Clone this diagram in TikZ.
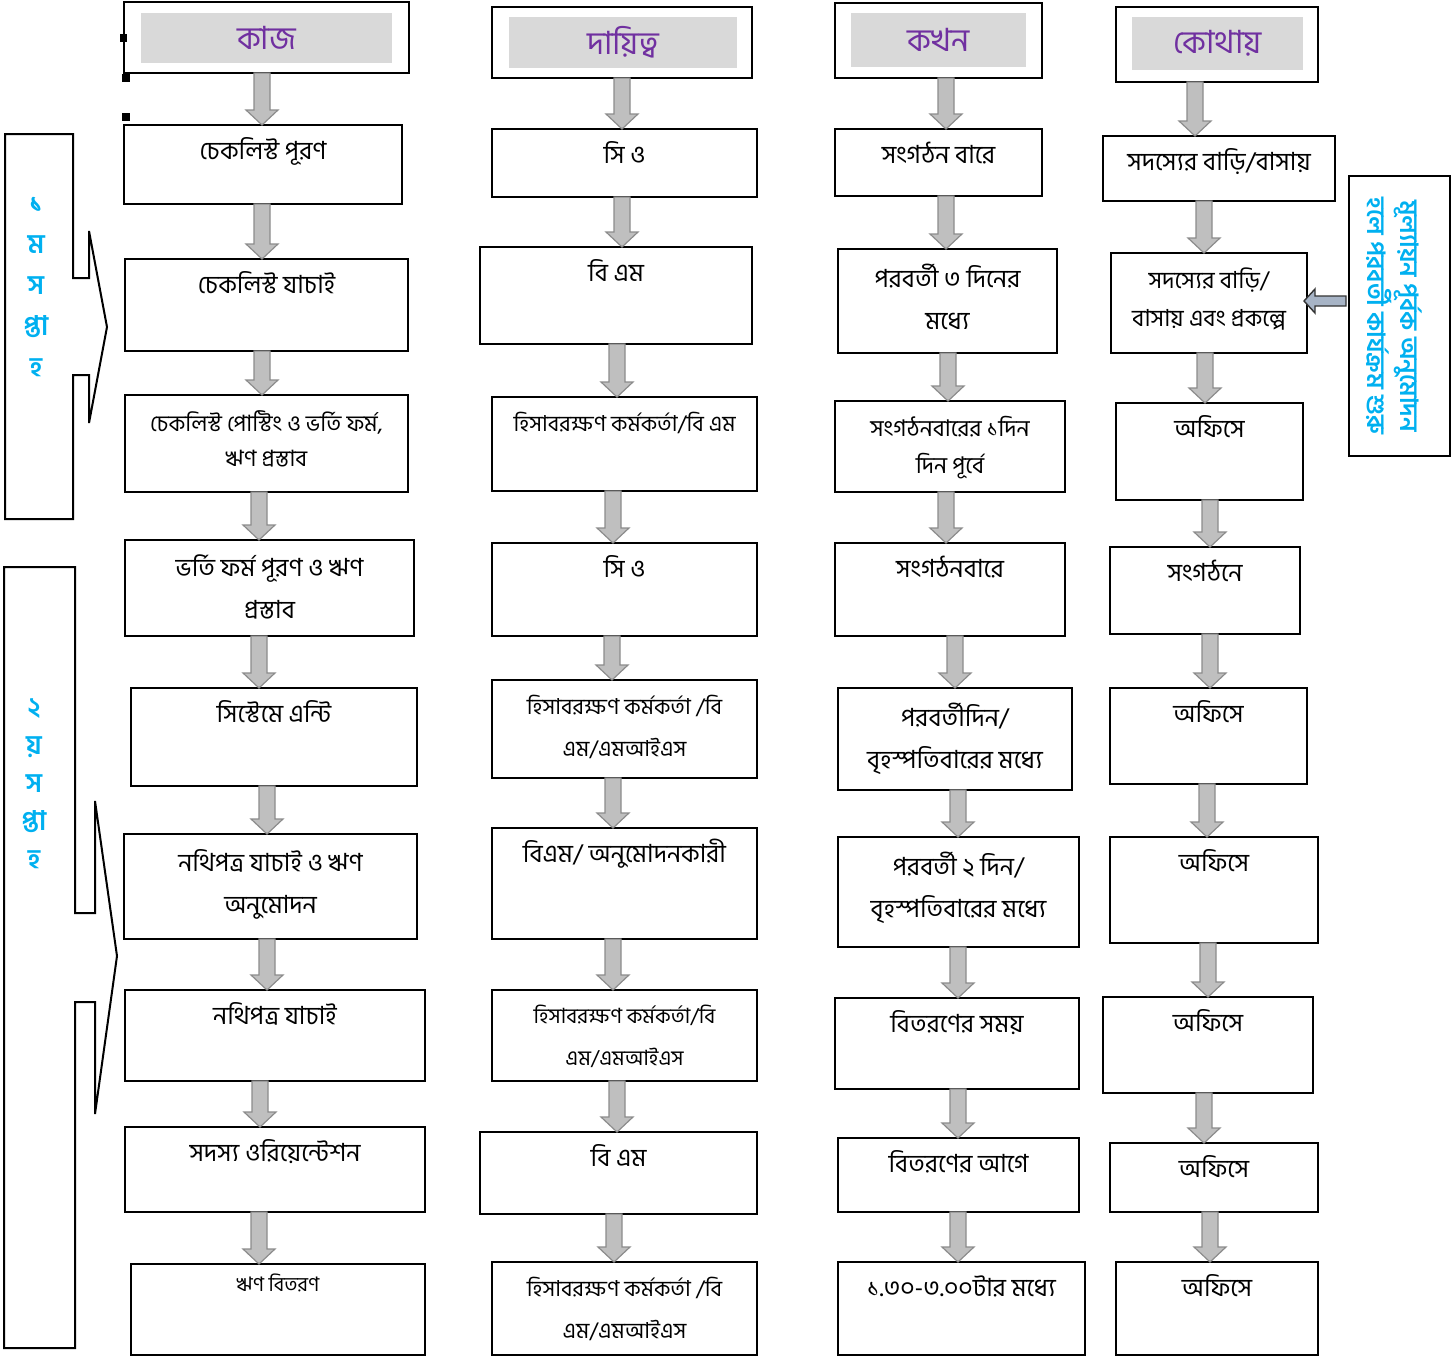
\documentclass[tikz,border=0pt]{standalone}
\usepackage{fontspec}
\usetikzlibrary{calc}
\newfontfamily\bn[Script=Bengali]{Hind Siliguri}
\definecolor{headpurple}{HTML}{7030A0}
\definecolor{weekcyan}{HTML}{00B0F0}
\definecolor{headgrey}{HTML}{D9D9D9}
\definecolor{arrowgrey}{HTML}{BFBFBF}
\definecolor{arrowline}{HTML}{8C8C8C}
\definecolor{noteblue}{HTML}{A7B4C6}
\tikzset{
  kbox/.style={draw=black, line width=1.6, inner sep=0, outer sep=0},
  headin/.style={fill=headgrey, inner sep=0, text=headpurple, font=\bn\fontsize{32}{38}\selectfont},
  ktext/.style={anchor=north, align=center, inner sep=0, font=\bn\fontsize{25}{42}\selectfont, execute at begin node=\strut},
  twoline/.style={yshift=-10},
  grarrow/.style={fill=arrowgrey, draw=arrowline, line width=1.2},
  notearrow/.style={fill=noteblue, draw=black!80, line width=1.4},
  callout/.style={draw=black, line width=2},
  weektext/.style={align=center, inner sep=0, text=weekcyan, font=\bn\bfseries\fontsize{27}{41}\selectfont},
  notetext/.style={rotate=-90, align=center, inner sep=0, text=weekcyan, font=\bn\bfseries\fontsize{25}{33}\selectfont}
}
% box with its text near the top: [text opts]{name}{x1}{y1}{x2}{y2}{text}
\newcommand{\kbox}[7][]{%
  \node[kbox, minimum width={#5-#3}, minimum height={#6-#4}] (#2) at ({(#3+#5)/2},{-(#4+#6)/2}) {};
  \node[ktext, #1] (#2t) at ([yshift=-5]#2.north) {#7};}
% grey block arrow from one box down to the next, at x = #3
\newcommand{\grarrow}[3]{%
  \draw[grarrow] let \p1=(#1.south), \p2=(#2.north) in
    ({#3pt-8pt},\y1) -- ({#3pt+8pt},\y1) -- ({#3pt+8pt},\y2+15pt) -- ({#3pt+16pt},\y2+15pt)
    -- ({#3pt},\y2) -- ({#3pt-16pt},\y2+15pt) -- ({#3pt-8pt},\y2+15pt) -- cycle;}

\begin{document}
\begin{tikzpicture}[x=1pt, y=1pt]
\useasboundingbox (0,0) rectangle (1452,-1357);

% headers
\fill (120,-34) rectangle (127,-42);
\fill (122,-74) rectangle (130,-82);
\fill (122,-113) rectangle (130,-121);
\node[kbox, minimum width=285, minimum height=71] (h1) at (266.5,-37.5) {};
\node[headin, minimum width=251, minimum height=50] (h1i) at (266.5,-38) {কাজ};
\node[kbox, minimum width=260, minimum height=71] (h2) at (622,-42.5) {};
\node[headin, minimum width=228, minimum height=51] (h2i) at (623,-42.5) {দায়িত্ব};
\node[kbox, minimum width=207, minimum height=75] (h3) at (938.5,-40.5) {};
\node[headin, minimum width=175, minimum height=54] (h3i) at (938.5,-40) {কখন};
\node[kbox, minimum width=202, minimum height=75] (h4) at (1217,-44.5) {};
\node[headin, minimum width=171, minimum height=53] (h4i) at (1217.5,-43.5) {কোথায়};

% কাজ
\kbox{k1}{124}{125}{402}{204}{চেকলিস্ট পূরণ}
\kbox{k2}{125}{259}{408}{351}{চেকলিস্ট যাচাই}
\kbox[twoline, font=\bn\fontsize{22.5}{35}\selectfont]{k3}{125}{395}{408}{492}{চেকলিস্ট পোস্টিং ও ভর্তি ফর্ম,\\ঋণ প্রস্তাব}
\kbox[twoline]{k4}{125}{540}{414}{636}{ভর্তি ফর্ম পূরণ ও ঋণ\\প্রস্তাব}
\kbox{k5}{131}{688}{417}{786}{সিস্টেমে এন্টি}
\kbox[twoline]{k6}{124}{834}{417}{939}{নথিপত্র যাচাই ও ঋণ\\অনুমোদন}
\kbox{k7}{125}{990}{425}{1081}{নথিপত্র যাচাই}
\kbox{k8}{125}{1127}{425}{1212}{সদস্য ওরিয়েন্টেশন}
\kbox[font=\bn\fontsize{20}{32}\selectfont]{k9}{131}{1264}{425}{1355}{ঋণ বিতরণ}

% দায়িত্ব
\kbox{d1}{492}{129}{757}{197}{সি ও}
\kbox{d2}{480}{247}{752}{344}{বি এম}
\kbox[font=\bn\fontsize{22}{42}\selectfont]{d3}{492}{397}{757}{491}{হিসাবরক্ষণ কর্মকর্তা/বি এম}
\kbox{d4}{492}{543}{757}{636}{সি ও}
\kbox[twoline, font=\bn\fontsize{22}{42}\selectfont]{d5}{492}{680}{757}{778}{হিসাবরক্ষণ কর্মকর্তা /বি\\এম/এমআইএস}
\kbox{d6}{492}{828}{757}{939}{বিএম/ অনুমোদনকারী}
\kbox[twoline, font=\bn\fontsize{21}{42}\selectfont]{d7}{492}{990}{757}{1081}{হিসাবরক্ষণ কর্মকর্তা/বি\\এম/এমআইএস}
\kbox{d8}{480}{1132}{757}{1214}{বি এম}
\kbox[twoline, font=\bn\fontsize{22}{42}\selectfont]{d9}{492}{1262}{757}{1355}{হিসাবরক্ষণ কর্মকর্তা /বি\\এম/এমআইএস}

% কখন
\kbox{c1}{835}{129}{1042}{196}{সংগঠন বারে}
\kbox[twoline]{c2}{838}{249}{1057}{353}{পরবর্তী ৩ দিনের\\মধ্যে}
\kbox[twoline, font=\bn\fontsize{23}{37}\selectfont]{c3}{835}{401}{1065}{492}{সংগঠনবারের ১দিন\\দিন পূর্বে}
\kbox{c4}{835}{543}{1065}{636}{সংগঠনবারে}
\kbox[twoline]{c5}{838}{688}{1072}{790}{পরবর্তীদিন/\\বৃহস্পতিবারের মধ্যে}
\kbox[twoline]{c6}{838}{837}{1079}{947}{পরবর্তী ২ দিন/\\বৃহস্পতিবারের মধ্যে}
\kbox{c7}{835}{998}{1079}{1089}{বিতরণের সময়}
\kbox{c8}{838}{1138}{1079}{1212}{বিতরণের আগে}
\kbox{c9}{838}{1262}{1085}{1355}{১.৩০-৩.০০টার মধ্যে}

% কোথায়
\kbox{w1}{1103}{136}{1335}{201}{সদস্যের বাড়ি/বাসায়}
\kbox[twoline, font=\bn\fontsize{23.5}{38}\selectfont]{w2}{1111}{253}{1307}{353}{সদস্যের বাড়ি/\\বাসায় এবং প্রকল্পে}
\kbox{w3}{1116}{403}{1303}{500}{অফিসে}
\kbox{w4}{1110}{547}{1300}{634}{সংগঠনে}
\kbox{w5}{1110}{688}{1307}{784}{অফিসে}
\kbox{w6}{1110}{837}{1318}{943}{অফিসে}
\kbox{w7}{1103}{997}{1313}{1093}{অফিসে}
\kbox{w8}{1110}{1143}{1318}{1212}{অফিসে}
\kbox{w9}{1116}{1262}{1318}{1355}{অফিসে}

% arrows
\grarrow{h1}{k1}{262}
\grarrow{k1}{k2}{262}
\grarrow{k2}{k3}{262}
\grarrow{k3}{k4}{259}
\grarrow{k4}{k5}{259}
\grarrow{k5}{k6}{267}
\grarrow{k6}{k7}{267}
\grarrow{k7}{k8}{260}
\grarrow{k8}{k9}{259}
\grarrow{h2}{d1}{622}
\grarrow{d1}{d2}{622}
\grarrow{d2}{d3}{617}
\grarrow{d3}{d4}{613}
\grarrow{d4}{d5}{612}
\grarrow{d5}{d6}{613}
\grarrow{d6}{d7}{613}
\grarrow{d7}{d8}{617}
\grarrow{d8}{d9}{614}
\grarrow{h3}{c1}{946}
\grarrow{c1}{c2}{946}
\grarrow{c2}{c3}{948}
\grarrow{c3}{c4}{946}
\grarrow{c4}{c5}{955}
\grarrow{c5}{c6}{958}
\grarrow{c6}{c7}{958}
\grarrow{c7}{c8}{958}
\grarrow{c8}{c9}{958}
\grarrow{h4}{w1}{1195}
\grarrow{w1}{w2}{1204}
\grarrow{w2}{w3}{1205}
\grarrow{w3}{w4}{1210}
\grarrow{w4}{w5}{1210}
\grarrow{w5}{w6}{1207}
\grarrow{w6}{w7}{1208}
\grarrow{w7}{w8}{1204}
\grarrow{w8}{w9}{1210}

% weeks
\draw[callout] (5,-134) -- (73,-134) -- (73,-278) -- (89,-278) -- (89,-231) -- (107,-327)
  -- (89,-423) -- (89,-375) -- (73,-375) -- (73,-519) -- (5,-519) -- cycle;
\node[weektext] (wk1) at (36,-287) {১\\ম\\স\\প্তা\\হ};
\draw[callout] (4,-567) -- (75,-567) -- (75,-913) -- (95,-913) -- (95,-801) -- (117,-956)
  -- (95,-1114) -- (95,-1002) -- (75,-1002) -- (75,-1348) -- (4,-1348) -- cycle;
\node[weektext, font=\bn\bfseries\fontsize{27}{38}\selectfont] (wk2) at (34,-784) {২\\য়\\স\\প্তা\\হ};

% note on the right
\node[kbox, minimum width=101, minimum height=280] (r) at (1399.5,-316) {};
\node[notetext] (rt) at (1394,-316) {মূল্যায়ন পূর্বক অনুমোদন\\হলে পরবর্তী কার্যক্রম শুরু};
\draw[notearrow] let \p1=(r.west), \p2=(w2.east) in
  ({\x1-3pt},-296pt) -- ({\x2+8pt},-296pt) -- ({\x2+8pt},-289pt) -- ({\x2-3pt},-301pt)
  -- ({\x2+8pt},-313pt) -- ({\x2+8pt},-306pt) -- ({\x1-3pt},-306pt) -- cycle;
\end{tikzpicture}
\end{document}
